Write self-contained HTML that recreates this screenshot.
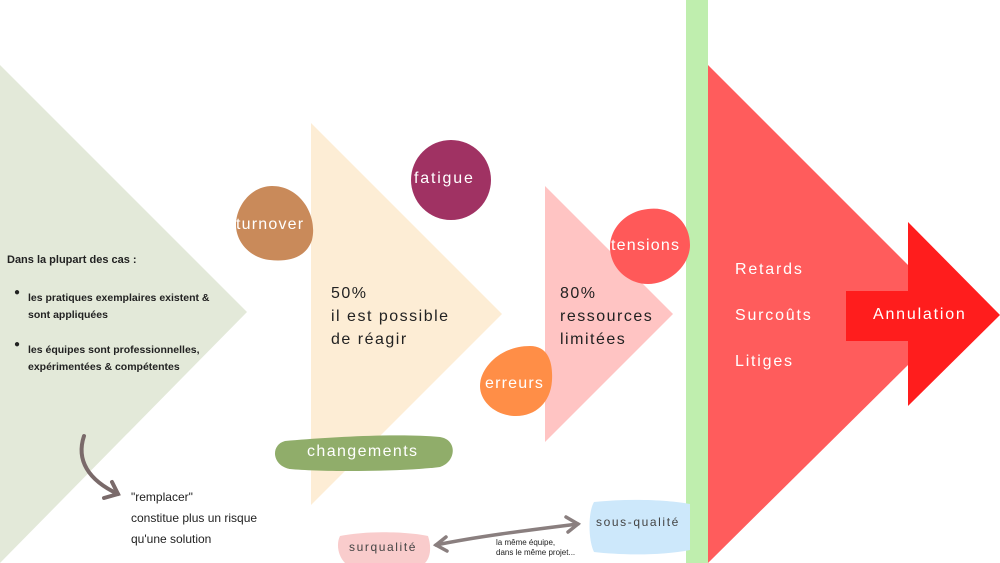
<!DOCTYPE html>
<html><head><meta charset="utf-8"><style>
html,body{margin:0;padding:0;background:#fff;}
#c{position:relative;width:1000px;height:563px;overflow:hidden;font-family:"Liberation Sans",sans-serif;}
.t{position:absolute;white-space:nowrap;}
.w{font-size:16px;letter-spacing:1.8px;}
.n{font-family:"Liberation Sans Narrow","Liberation Sans",sans-serif;}
</style></head><body><div id="c">
<svg width="1000" height="563" style="position:absolute;left:0;top:0">
<polygon points="0,65 247,312 0,563" fill="#e3e9d9"/>
<polygon points="311,123 502,314 311,505" fill="#fdedd5"/>
<polygon points="545,186 673,314 545,442" fill="#ffc4c3"/>
<rect x="686" y="0" width="22" height="563" fill="#bfeeae"/>
<polygon points="708,65 908,265 908,365 708,563" fill="#ff5c5c"/>
<rect x="846" y="291" width="64" height="50" fill="#ff1d1d"/>
<polygon points="908,222 1000,315 908,406" fill="#ff1d1d"/>
<path d="M272,186 C300,186 318,215 312,240 C306,258 288,262 270,260 C250,258 236,242 236,225 C236,205 252,186 272,186Z" fill="#c98a5a"/>
<circle cx="451" cy="180" r="40" fill="#a03263"/>
<path d="M648,209 C672,206 690,222 690,245 C690,265 670,284 648,284 C628,284 610,268 610,247 C610,228 626,211 648,209Z" fill="#ff5959"/>
<path d="M530,346 C548,346 553,362 552,380 C551,402 536,416 516,416 C496,416 480,402 480,386 C480,368 500,346 530,346Z" fill="#ff8e47"/>
<path d="M285,441 C330,437 400,433 440,437 C458,440 456,462 440,467 C400,472 320,472 290,469 C272,466 270,445 285,441Z" fill="#90ad6a"/>
<path d="M340,536 C370,530 410,532 428,536 C432,548 430,558 425,563 L345,563 C338,556 336,544 340,536Z" fill="#f9cccc"/>
<path d="M594,502 C630,498 670,500 690,504 L690,550 C660,556 620,555 594,552 C588,540 588,512 594,502Z" fill="#cde8fb"/>
<path d="M84,436 C76,460 88,480 118,494" stroke="#7a6a6a" stroke-width="4" fill="none" stroke-linecap="round"/>
<path d="M104,498 L118,494 L112,482" stroke="#7a6a6a" stroke-width="4" fill="none" stroke-linecap="round"/>
<path d="M436,545 C480,536 530,530 578,524" stroke="#8a7f7f" stroke-width="3.5" fill="none" stroke-linecap="round"/>
<path d="M446,537 L436,545 L447,551" stroke="#8a7f7f" stroke-width="3.5" fill="none" stroke-linecap="round"/>
<path d="M566,517 L578,524 L568,532" stroke="#8a7f7f" stroke-width="3.5" fill="none" stroke-linecap="round"/>
</svg>
<div class="t n" style="left:7px;top:254px;font-size:11px;font-weight:bold;color:#222">Dans la plupart des cas :</div>
<div class="t" style="left:14px;top:287px;font-size:10px;color:#222">●</div>
<div class="t n" style="left:28px;top:290px;font-size:10.5px;font-weight:bold;color:#222;line-height:17px">les pratiques exemplaires existent &amp;<br>sont appliquées</div>
<div class="t" style="left:14px;top:339px;font-size:10px;color:#222">●</div>
<div class="t n" style="left:28px;top:342px;font-size:10.5px;font-weight:bold;color:#222;line-height:17px">les équipes sont professionnelles,<br>expérimentées &amp; compétentes</div>
<div class="t n" style="left:131px;top:487px;font-size:12px;color:#222;line-height:21px">"remplacer"<br>constitue plus un risque<br>qu'une solution</div>
<div class="t w" style="left:236px;top:216px;color:#fff;letter-spacing:1.2px">turnover</div>
<div class="t w" style="left:414px;top:170px;color:#fff;">fatigue</div>
<div class="t w" style="left:611px;top:237px;color:#fff;letter-spacing:1.2px">tensions</div>
<div class="t w" style="left:485px;top:375px;color:#fff;letter-spacing:1.2px">erreurs</div>
<div class="t w" style="left:307px;top:443px;color:#fff;letter-spacing:1.4px">changements</div>
<div class="t w" style="left:331px;top:282px;color:#222;line-height:23px;letter-spacing:1.5px">50%<br>il est possible<br>de réagir</div>
<div class="t w" style="left:560px;top:282px;color:#222;line-height:23px;letter-spacing:1.5px">80%<br>ressources<br>limitées</div>
<div class="t w" style="left:735px;top:247px;color:#fff;line-height:46px">Retards<br>Surcoûts<br>Litiges</div>
<div class="t w" style="left:873px;top:306px;color:#fff;">Annulation</div>
<div class="t" style="left:349px;top:540px;font-size:12px;color:#444;letter-spacing:1.6px">surqualité</div>
<div class="t" style="left:596px;top:515px;font-size:12px;color:#444;letter-spacing:1.6px">sous-qualité</div>
<div class="t n" style="left:496px;top:538px;font-size:8px;color:#222;line-height:10px">la même équipe,<br>dans le même projet...</div>
</div></body></html>
